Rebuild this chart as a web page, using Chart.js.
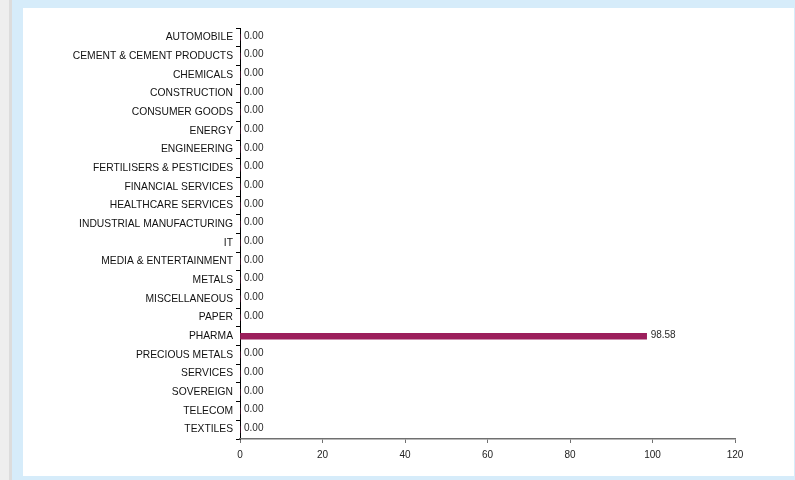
<!DOCTYPE html>
<html>
<head>
<meta charset="utf-8">
<script src="https://cdn.jsdelivr.net/npm/chart.js@4.4.1/dist/chart.umd.min.js"></script>
<style>
  html, body { margin: 0; padding: 0; }
  body { width: 795px; height: 480px; background: #d6ecfa; position: relative; overflow: hidden; }
  #edge { position: absolute; left: 0; top: 0; width: 9px; height: 480px; background: #eeeeee; }
  #edgeLine { position: absolute; left: 9px; top: 0; width: 3px; height: 480px; background: #dcdcdc; }
  #panel { position: absolute; left: 23px; top: 8px; width: 771px; height: 468px; background: #ffffff; }
  canvas { display: block; }
</style>
</head>
<body>
<div id="edge"></div>
<div id="edgeLine"></div>
<div id="panel"><canvas id="c" width="771" height="468"></canvas></div>
<script>
// Sector allocation (% of net assets)
const sectors = [
  'AUTOMOBILE', 'CEMENT & CEMENT PRODUCTS', 'CHEMICALS', 'CONSTRUCTION',
  'CONSUMER GOODS', 'ENERGY', 'ENGINEERING', 'FERTILISERS & PESTICIDES',
  'FINANCIAL SERVICES', 'HEALTHCARE SERVICES', 'INDUSTRIAL MANUFACTURING', 'IT',
  'MEDIA & ENTERTAINMENT', 'METALS', 'MISCELLANEOUS', 'PAPER', 'PHARMA',
  'PRECIOUS METALS', 'SERVICES', 'SOVEREIGN', 'TELECOM', 'TEXTILES'
];
const allocation = [
  0, 0, 0, 0,
  0, 0, 0, 0,
  0, 0, 0, 0,
  0, 0, 0, 0, 98.58,
  0, 0, 0, 0, 0
];
const xTicks = [0, 20, 40, 60, 80, 100, 120];

const FONT = "'Liberation Sans', Arial, sans-serif";

// Writes each bar's value just past its end
const valueLabels = {
  id: 'valueLabels',
  afterDatasetsDraw(chart) {
    const ctx = chart.ctx;
    const meta = chart.getDatasetMeta(0);
    ctx.save();
    ctx.font = '10px ' + FONT;
    ctx.fillStyle = '#2a2a2a';
    ctx.textAlign = 'left';
    ctx.textBaseline = 'middle';
    meta.data.forEach((bar, i) => {
      const v = chart.data.datasets[0].data[i];
      ctx.fillText(v.toFixed(2), bar.x + 4, bar.y - 1.5);
    });
    ctx.restore();
  }
};

new Chart(document.getElementById('c'), {
  type: 'bar',
  data: {
    labels: sectors,
    datasets: [{
      data: allocation,
      backgroundColor: '#9c1f5c',
      barThickness: 6
    }]
  },
  options: {
    indexAxis: 'y',
    responsive: false,
    animation: false,
    layout: { padding: { top: 20, right: 59, bottom: 0, left: 0 } },
    plugins: {
      legend: { display: false },
      tooltip: { enabled: false }
    },
    scales: {
      y: {
        afterFit(scale) { scale.width = 217; },
        grid: {
          drawOnChartArea: false,
          drawTicks: true,
          tickLength: 4,
          color: '#000000',
          offset: true
        },
        border: { display: true, color: '#000000', width: 1 },
        ticks: {
          color: '#111111',
          font: { family: FONT, size: 10.3 },
          padding: 3,
          autoSkip: false
        }
      },
      x: {
        min: 0,
        max: 120,
        afterFit(scale) { scale.height = 37; },
        afterBuildTicks(scale) { scale.ticks = xTicks.map(v => ({ value: v })); },
        grid: {
          drawOnChartArea: false,
          drawTicks: true,
          tickLength: 4,
          color: '#707070'
        },
        border: { display: true, color: '#707070', width: 1.5 },
        ticks: {
          color: '#222222',
          font: { family: FONT, size: 10 },
          padding: 6
        }
      }
    }
  },
  plugins: [valueLabels]
});
</script>
</body>
</html>
